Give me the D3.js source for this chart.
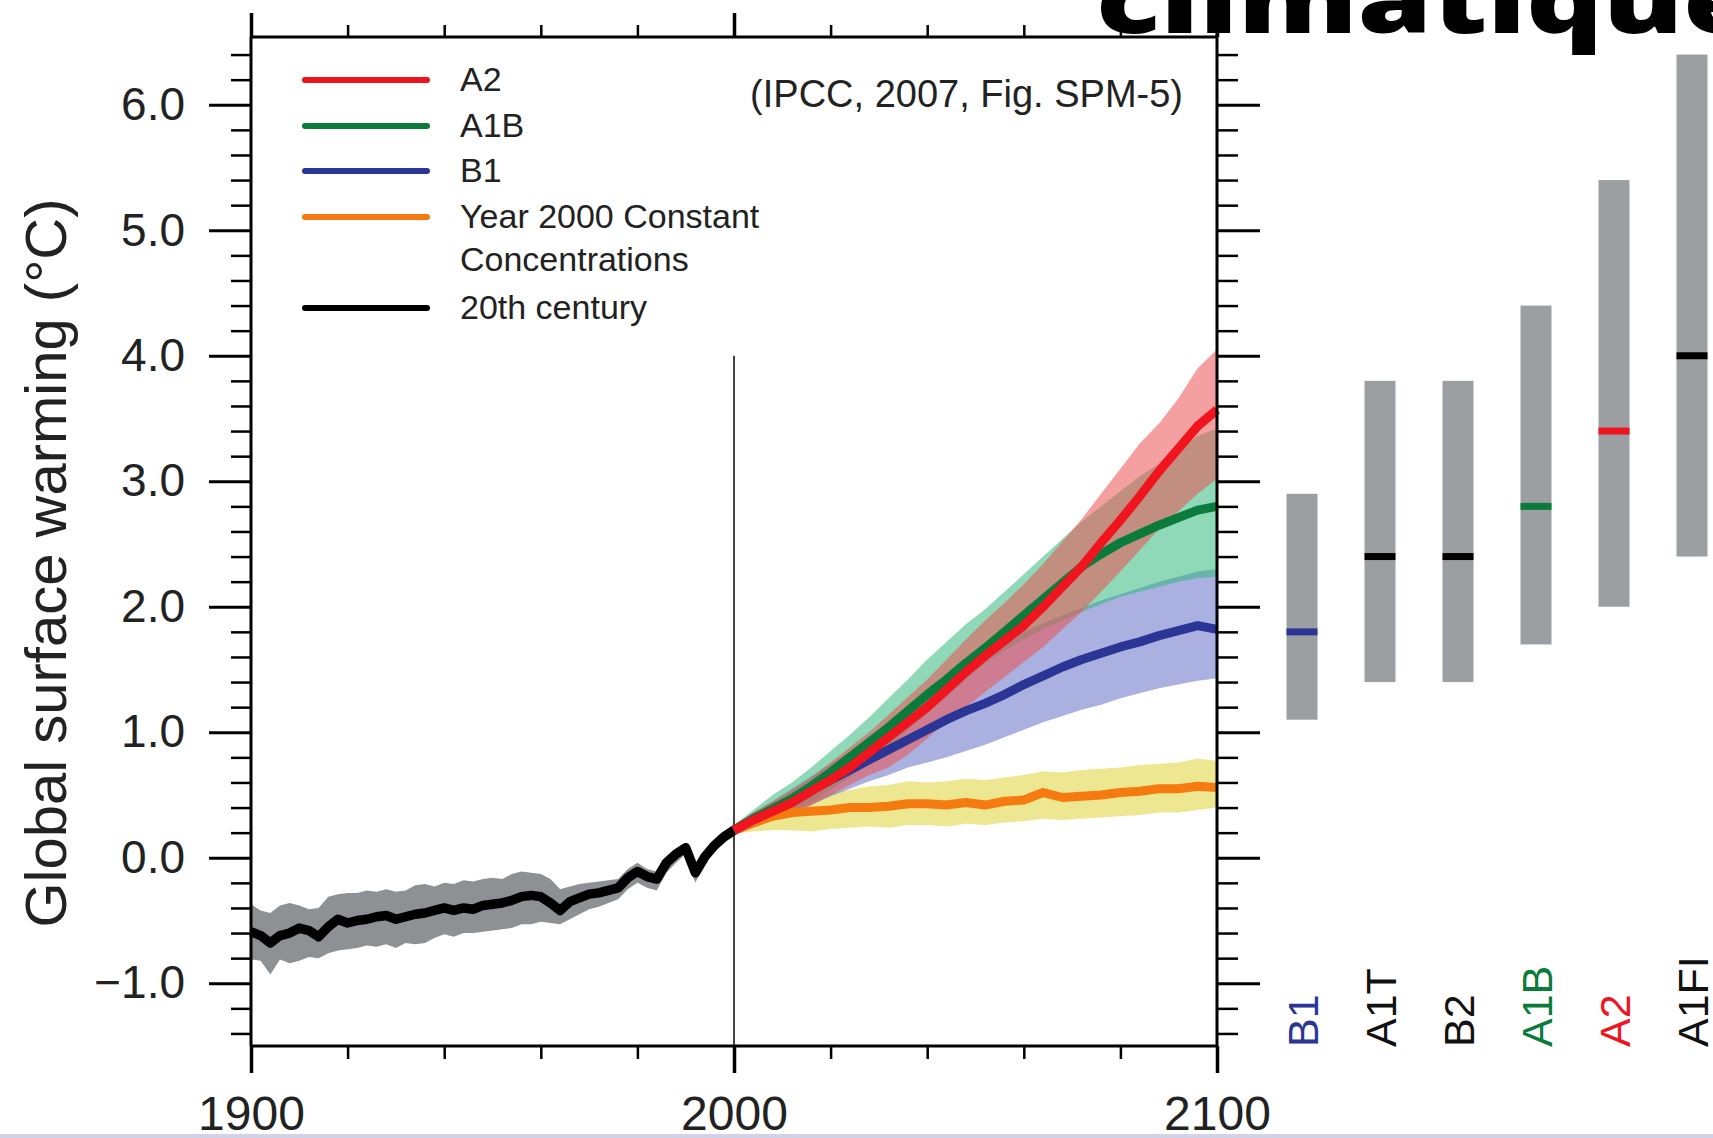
<!DOCTYPE html>
<html>
<head>
<meta charset="utf-8">
<script src="https://cdn.jsdelivr.net/npm/d3@7"></script>
<style>
  html, body { margin: 0; padding: 0; background: #fff; }
  svg { display: block; }
  .axis text { font-family: "Liberation Sans", Arial, sans-serif; fill: #222; }
</style>
</head>
<body>
<svg id="chart" width="1713" height="1138"></svg>
<script>
// ---- data ----
const histYears = [1900,1902,1904,1906,1908,1910,1912,1914,1916,1918,1920,1922,1924,1926,1928,1930,1932,1934,1936,1938,1940,1942,1944,1946,1948,1950,1952,1954,1956,1958,1960,1962,1964,1966,1968,1970,1972,1974,1976,1978,1980,1982,1984,1986,1988,1990,1992,1994,1996,1998,2000];
const histMean  = [-0.59,-0.62,-0.68,-0.62,-0.60,-0.56,-0.58,-0.63,-0.55,-0.49,-0.52,-0.50,-0.49,-0.47,-0.46,-0.49,-0.47,-0.45,-0.44,-0.42,-0.40,-0.42,-0.40,-0.41,-0.38,-0.37,-0.36,-0.34,-0.31,-0.30,-0.31,-0.36,-0.42,-0.35,-0.32,-0.29,-0.28,-0.26,-0.24,-0.16,-0.11,-0.15,-0.17,-0.04,0.03,0.08,-0.12,0.01,0.10,0.17,0.22];
const histUpper = [-0.37,-0.42,-0.44,-0.38,-0.36,-0.38,-0.41,-0.40,-0.31,-0.29,-0.28,-0.28,-0.26,-0.27,-0.25,-0.27,-0.26,-0.22,-0.21,-0.23,-0.20,-0.21,-0.18,-0.19,-0.17,-0.16,-0.17,-0.13,-0.11,-0.12,-0.13,-0.17,-0.25,-0.23,-0.21,-0.20,-0.19,-0.18,-0.17,-0.09,-0.04,-0.09,-0.11,0.01,0.07,0.12,-0.05,0.05,0.14,0.21,0.27];
const histLower = [-0.81,-0.82,-0.93,-0.81,-0.84,-0.82,-0.79,-0.80,-0.76,-0.74,-0.73,-0.72,-0.70,-0.71,-0.69,-0.72,-0.68,-0.69,-0.68,-0.64,-0.61,-0.63,-0.60,-0.60,-0.59,-0.58,-0.57,-0.56,-0.53,-0.53,-0.51,-0.52,-0.53,-0.49,-0.45,-0.41,-0.39,-0.36,-0.33,-0.25,-0.20,-0.24,-0.26,-0.12,-0.04,0.03,-0.20,-0.04,0.05,0.12,0.17];

const projYears = [2000,2004,2008,2012,2016,2020,2024,2028,2032,2036,2040,2044,2048,2052,2056,2060,2064,2068,2072,2076,2080,2084,2088,2092,2096,2100];

const a2Mean  = [0.22,0.30,0.37,0.44,0.53,0.62,0.72,0.84,0.96,1.08,1.20,1.34,1.48,1.61,1.73,1.85,2.00,2.16,2.32,2.51,2.69,2.88,3.08,3.26,3.44,3.57];
const a2Upper = [0.26,0.36,0.45,0.54,0.64,0.76,0.88,1.00,1.14,1.28,1.42,1.58,1.74,1.89,2.03,2.18,2.34,2.52,2.70,2.90,3.10,3.30,3.46,3.66,3.90,4.05];
const a2Lower = [0.18,0.24,0.30,0.35,0.42,0.50,0.58,0.66,0.72,0.82,0.95,1.08,1.20,1.32,1.44,1.56,1.68,1.82,1.96,2.12,2.28,2.45,2.62,2.76,2.90,3.02];

const a1bMean  = [0.22,0.31,0.39,0.47,0.57,0.68,0.80,0.92,1.04,1.17,1.30,1.42,1.55,1.67,1.80,1.93,2.06,2.19,2.32,2.42,2.51,2.58,2.65,2.71,2.77,2.80];
const a1bUpper = [0.26,0.38,0.50,0.60,0.72,0.85,0.98,1.12,1.27,1.42,1.58,1.72,1.86,1.98,2.12,2.26,2.40,2.54,2.68,2.80,2.92,3.04,3.14,3.25,3.36,3.42];
const a1bLower = [0.18,0.25,0.31,0.37,0.45,0.54,0.64,0.76,0.88,1.02,1.15,1.28,1.42,1.55,1.65,1.74,1.82,1.89,1.96,2.02,2.08,2.12,2.16,2.20,2.23,2.24];

const b1Mean  = [0.22,0.31,0.38,0.46,0.54,0.62,0.70,0.78,0.86,0.94,1.02,1.10,1.17,1.23,1.30,1.38,1.45,1.52,1.58,1.63,1.68,1.72,1.77,1.81,1.85,1.82];
const b1Upper = [0.25,0.36,0.45,0.55,0.65,0.75,0.85,0.96,1.07,1.18,1.29,1.40,1.50,1.61,1.72,1.80,1.87,1.93,1.99,2.05,2.10,2.15,2.20,2.24,2.28,2.30];
const b1Lower = [0.18,0.24,0.30,0.36,0.42,0.49,0.55,0.61,0.66,0.72,0.76,0.80,0.85,0.90,0.96,1.02,1.08,1.13,1.18,1.22,1.27,1.31,1.35,1.38,1.41,1.43];

const constMean  = [0.22,0.28,0.33,0.36,0.37,0.38,0.40,0.40,0.41,0.43,0.43,0.42,0.44,0.42,0.45,0.46,0.52,0.48,0.49,0.50,0.52,0.53,0.55,0.55,0.57,0.56];
const constUpper = [0.25,0.36,0.42,0.46,0.50,0.52,0.54,0.57,0.58,0.61,0.60,0.61,0.63,0.62,0.64,0.66,0.69,0.68,0.70,0.71,0.72,0.74,0.75,0.76,0.79,0.77];
const constLower = [0.19,0.21,0.22,0.22,0.21,0.23,0.24,0.25,0.24,0.26,0.26,0.25,0.27,0.26,0.28,0.29,0.31,0.30,0.31,0.32,0.33,0.34,0.36,0.36,0.38,0.40];

// likely ranges at 2100 (right panel)
const scenarios = ["B1","A1T","B2","A1B","A2","A1FI"];
const rangeLow  = [1.1,1.4,1.4,1.7,2.0,2.4];
const rangeHigh = [2.9,3.8,3.8,4.4,5.4,6.4];
const bestEst   = [1.8,2.4,2.4,2.8,3.4,4.0];

const legendLabels = ["A2","A1B","B1","Year 2000 Constant","20th century"];
const yMajorTicks = [-1,0,1,2,3,4,5,6];
const xMajorTicks = [1900,2000,2100];

// ---- chart ----
const svg = d3.select("#chart");
const font = '"Liberation Sans", Arial, Helvetica, sans-serif';

const col = {
  red: "#f0141e", green: "#0a7b3a", blue: "#2a3596", orange: "#f57a10", black: "#000",
  redBand: "#eb5252", greenBand: "#33b87e", blueBand: "#646fc7", yellowBand: "#e4dc5e", grayBand: "#8e9194",
  bar: "#9c9fa2"
};
const scenColor = {B1: col.blue, A1T: col.black, B2: col.black, A1B: col.green, A2: col.red, A1FI: col.black};

const x = d3.scaleLinear().domain([1900, 2100]).range([251, 1217]);
const y = d3.scaleLinear().domain([-1.5, 6.54]).range([1046, 37]);

svg.append("rect").attr("width", 1713).attr("height", 1138).attr("fill", "#fff");

// big heading cut off at the top of the slide
svg.append("text")
  .attr("x", 1096).attr("y", 33)
  .attr("font-family", '"Open Sans", "Noto Sans", sans-serif')
  .attr("font-weight", 800)
  .attr("font-size", 92)
  .attr("textLength", 661)
  .attr("lengthAdjust", "spacingAndGlyphs")
  .attr("fill", "#000")
  .text("climatique");

// bands + lines
const band = (xs, lo, hi) => d3.area()
  .x((d, i) => x(xs[i])).y0((d, i) => y(lo[i])).y1((d, i) => y(hi[i]))(xs);
const line = (xs, vs) => d3.line().x((d, i) => x(xs[i])).y((d, i) => y(vs[i]))(xs);

const plot = svg.append("g");

plot.append("path").attr("d", band(histYears, histLower, histUpper)).attr("fill", col.grayBand);

plot.append("path").attr("d", band(projYears, constLower, constUpper)).attr("fill", col.yellowBand).attr("fill-opacity", 0.68);
plot.append("path").attr("d", band(projYears, b1Lower, b1Upper)).attr("fill", col.blueBand).attr("fill-opacity", 0.55);
plot.append("path").attr("d", band(projYears, a1bLower, a1bUpper)).attr("fill", col.greenBand).attr("fill-opacity", 0.55);
plot.append("path").attr("d", band(projYears, a2Lower, a2Upper)).attr("fill", col.redBand).attr("fill-opacity", 0.55);

// 2000 divider
plot.append("line")
  .attr("x1", x(2000)).attr("x2", x(2000))
  .attr("y1", y(4)).attr("y2", y(-1.5))
  .attr("stroke", "#444").attr("stroke-width", 2);

plot.append("path").attr("d", line(histYears, histMean)).attr("fill", "none")
  .attr("stroke", col.black).attr("stroke-width", 9.5).attr("stroke-linejoin", "round");

[[constMean, col.orange], [b1Mean, col.blue], [a1bMean, col.green], [a2Mean, col.red]].forEach(([vs, c]) => {
  plot.append("path").attr("d", line(projYears, vs)).attr("fill", "none")
    .attr("stroke", c).attr("stroke-width", 9).attr("stroke-linejoin", "round");
});

// axes
function styleAxis(g, w) {
  g.selectAll(".tick line").attr("stroke", "#000").attr("stroke-width", w);
  g.select(".domain").remove();
}
const minorY = d3.range(-1.4, 6.41, 0.2).map(v => +v.toFixed(1)).filter(v => Math.abs(v - Math.round(v)) > 0.01);
const minorX = d3.range(1920, 2100, 20).filter(v => v !== 2000);
const fmtY = d => (d < 0 ? "\u2212" : "") + Math.abs(d).toFixed(1);

const gLeft = svg.append("g").attr("class", "axis").attr("transform", "translate(251,0)")
  .call(d3.axisLeft(y).tickValues(yMajorTicks).tickSize(42).tickPadding(24).tickFormat(fmtY));
gLeft.selectAll("text").attr("font-size", 46).attr("font-family", font);
styleAxis(gLeft, 3);
const gLeftMinor = svg.append("g").attr("transform", "translate(251,0)")
  .call(d3.axisLeft(y).tickValues(minorY).tickSize(20).tickFormat(""));
styleAxis(gLeftMinor, 2.5);

const gRight = svg.append("g").attr("transform", "translate(1217,0)")
  .call(d3.axisRight(y).tickValues(yMajorTicks).tickSize(43).tickFormat(""));
styleAxis(gRight, 3);
const gRightMinor = svg.append("g").attr("transform", "translate(1217,0)")
  .call(d3.axisRight(y).tickValues(minorY).tickSize(21).tickFormat(""));
styleAxis(gRightMinor, 2.5);

const gBottom = svg.append("g").attr("class", "axis").attr("transform", "translate(0,1046)")
  .call(d3.axisBottom(x).tickValues(xMajorTicks).tickSize(27).tickPadding(23).tickFormat(d3.format("d")));
gBottom.selectAll("text").attr("font-size", 48).attr("font-family", font);
styleAxis(gBottom, 3.5);
const gBottomMinor = svg.append("g").attr("transform", "translate(0,1046)")
  .call(d3.axisBottom(x).tickValues(minorX).tickSize(13).tickFormat(""));
styleAxis(gBottomMinor, 2.5);

const gTop = svg.append("g").attr("transform", "translate(0,37)")
  .call(d3.axisTop(x).tickValues(xMajorTicks).tickSize(24).tickFormat(""));
styleAxis(gTop, 3.5);
const gTopMinor = svg.append("g").attr("transform", "translate(0,37)")
  .call(d3.axisTop(x).tickValues(minorX).tickSize(12).tickFormat(""));
styleAxis(gTopMinor, 2.5);

// frame lines
const frame = svg.append("g").attr("stroke", "#000").attr("stroke-width", 3);
frame.append("line").attr("x1", 251).attr("x2", 251).attr("y1", 37).attr("y2", 1046);
frame.append("line").attr("x1", 1217).attr("x2", 1217).attr("y1", 0).attr("y2", 1046);
frame.append("line").attr("x1", 251).attr("x2", 1217).attr("y1", 37).attr("y2", 37);
frame.append("line").attr("x1", 251).attr("x2", 1217).attr("y1", 1046).attr("y2", 1046);

// y axis title
svg.append("text")
  .attr("transform", "translate(66,563) rotate(-90)")
  .attr("text-anchor", "middle")
  .attr("font-family", font).attr("font-size", 58).attr("fill", "#222")
  .text("Global surface warming (\u00b0C)");

// source note
svg.append("text")
  .attr("x", 1183).attr("y", 107).attr("text-anchor", "end")
  .attr("font-family", font).attr("font-size", 38).attr("fill", "#222")
  .text("(IPCC, 2007, Fig. SPM-5)");

// legend
const legendColors = [col.red, col.green, col.blue, col.orange, col.black];
const legendY = [80, 126, 171, 217, 308];
const legend = svg.append("g");
legendLabels.forEach((lab, i) => {
  legend.append("line")
    .attr("x1", 305).attr("x2", 427).attr("y1", legendY[i]).attr("y2", legendY[i])
    .attr("stroke", legendColors[i]).attr("stroke-width", 6).attr("stroke-linecap", "round");
  legend.append("text")
    .attr("x", 460).attr("y", legendY[i] + 11)
    .attr("font-family", font).attr("font-size", 34).attr("fill", "#222")
    .text(lab);
});
legend.append("text")
  .attr("x", 460).attr("y", 271)
  .attr("font-family", font).attr("font-size", 34).attr("fill", "#222")
  .text("Concentrations");

// right panel: likely ranges at 2090-2099
const xs = d3.scalePoint().domain(scenarios).range([1302, 1692]);
const barW = 31;
const bars = svg.append("g");
scenarios.forEach((s, i) => {
  bars.append("rect")
    .attr("x", xs(s) - barW / 2).attr("width", barW)
    .attr("y", y(rangeHigh[i])).attr("height", y(rangeLow[i]) - y(rangeHigh[i]))
    .attr("fill", col.bar);
  bars.append("rect")
    .attr("x", xs(s) - barW / 2).attr("width", barW)
    .attr("y", y(bestEst[i]) - 3.5).attr("height", 7)
    .attr("fill", scenColor[s]);
  bars.append("text")
    .attr("transform", `translate(${xs(s) + 16},1047) rotate(-90)`)
    .attr("font-family", font).attr("font-size", 43)
    .attr("fill", scenColor[s] === col.black ? "#111" : scenColor[s])
    .text(s);
});

// thin strip at the bottom edge of the screenshot
svg.append("rect").attr("x", 0).attr("y", 1134).attr("width", 1713).attr("height", 4).attr("fill", "#d2d3e8");
</script>
</body>
</html>
